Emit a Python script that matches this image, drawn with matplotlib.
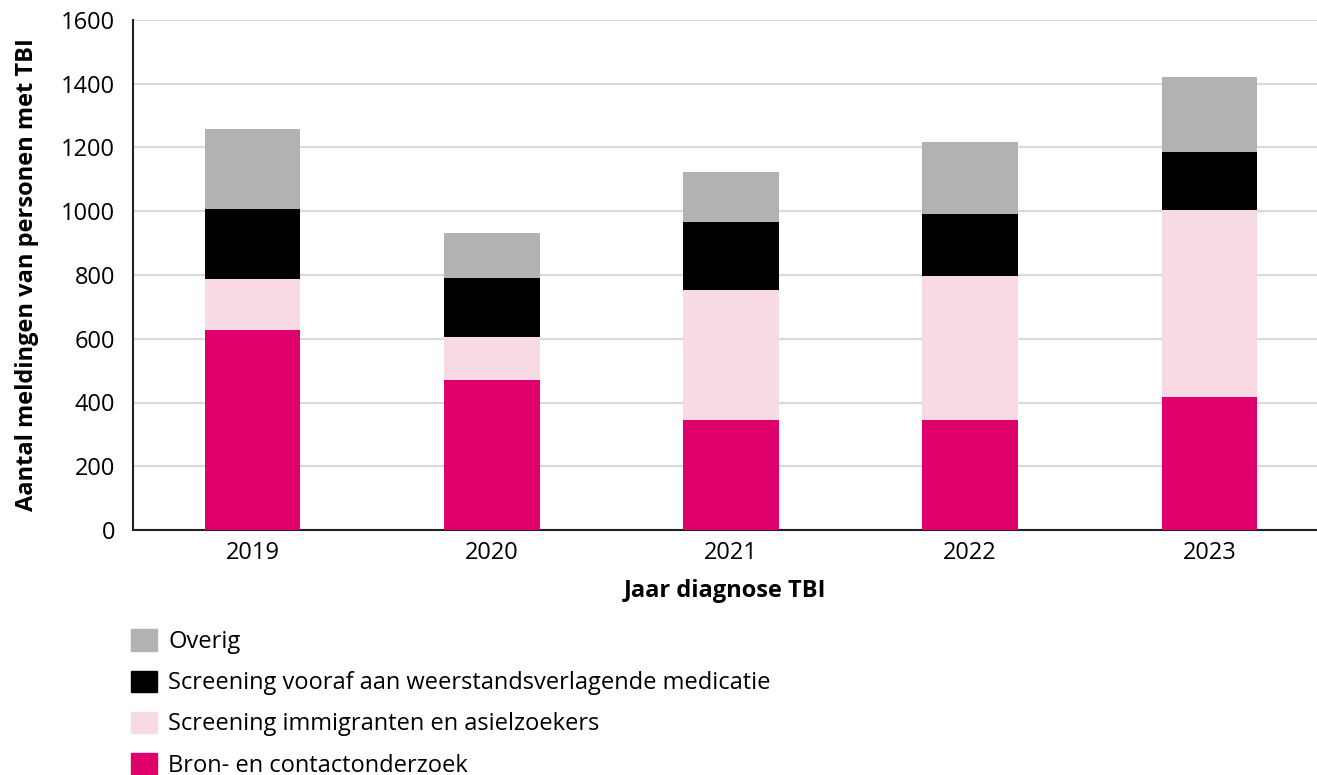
import matplotlib.pyplot as plt
from matplotlib.patches import Patch
import numpy as np

plt.rcParams['font.family'] = ['Open Sans', 'DejaVu Sans']

years = ['2019', '2020', '2021', '2022', '2023']
bron = [628, 470, 344, 344, 417]
immigranten = [158, 137, 410, 453, 587]
medicatie = [220, 183, 213, 195, 182]
overig = [252, 141, 157, 226, 236]

labels = ['Bron- en contactonderzoek',
          'Screening immigranten en asielzoekers',
          'Screening vooraf aan weerstandsverlagende medicatie',
          'Overig']
colors = ['#e0006c', '#f8dae5', '#000000', '#b2b2b2']

fig = plt.figure(figsize=(13.17, 7.75), dpi=100)
ax = fig.add_axes([133/1317, 1-530/775, 1-133/1317, (530-20)/775])

x = np.arange(len(years))
bottom = np.zeros(len(years))
for vals, lab, col in zip([bron, immigranten, medicatie, overig], labels, colors):
    ax.bar(x, vals, width=0.4, bottom=bottom, color=col, label=lab, zorder=3)
    bottom += np.array(vals)

ax.set_ylim(0, 1600)
ax.set_xlim(-0.5, 4.45)
ax.set_yticks(range(0, 1601, 200))
ax.set_xticks(x)
ax.set_xticklabels(years)
ax.tick_params(axis='both', length=0, labelsize=17)
ax.tick_params(axis='y', pad=13)
ax.tick_params(axis='x', pad=8)
ax.yaxis.grid(True, color='#d9d9d9', linewidth=1.5, zorder=0)
ax.set_axisbelow(True)
for s in ['top', 'right']:
    ax.spines[s].set_visible(False)
for s in ['left', 'bottom']:
    ax.spines[s].set_linewidth(1.5)
    ax.spines[s].set_color('#222222')

ax.set_xlabel('Jaar diagnose TBI', fontsize=17, fontweight='bold', labelpad=10)
ax.set_ylabel('Aantal meldingen van personen met TBI', fontsize=17, fontweight='bold', labelpad=16)

handles = [Patch(color=c) for c in colors][::-1]
fig.legend(handles, labels[::-1], loc='upper left', bbox_to_anchor=(122/1317, 1-620/775),
           frameon=False, fontsize=17, handlelength=1.1, handleheight=1.0,
           handletextpad=0.45, labelspacing=0.7, borderaxespad=0)

fig.savefig('out.png', dpi=100)
